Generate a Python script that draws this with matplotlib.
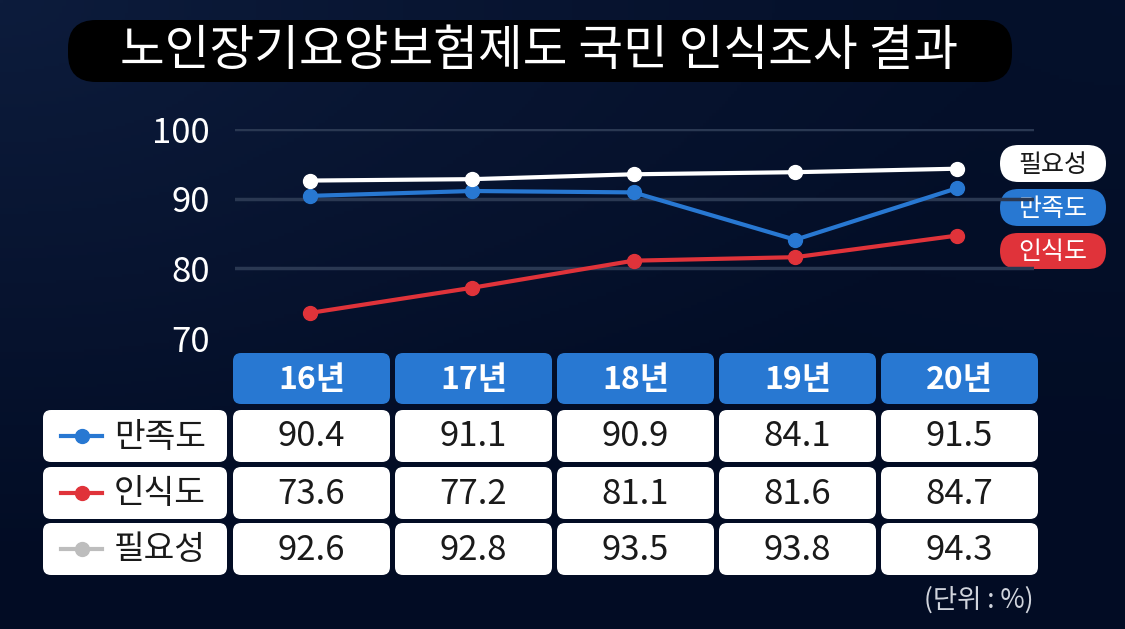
import numpy as np
import matplotlib
matplotlib.use("Agg")
import matplotlib.pyplot as plt
from matplotlib.patches import FancyBboxPatch
from matplotlib.lines import Line2D

plt.rcParams['font.family'] = ['Noto Sans CJK KR', 'DejaVu Sans']

# ---- data ----
title = "노인장기요양보험제도 국민 인식조사 결과"
years = ["16년", "17년", "18년", "19년", "20년"]
series_names = ["만족도", "인식도", "필요성"]
satisfaction = [90.4, 91.1, 90.9, 84.1, 91.5]
awareness = [73.6, 77.2, 81.1, 81.6, 84.7]
necessity = [92.6, 92.8, 93.5, 93.8, 94.3]
yticks = [70, 80, 90, 100]
unit_label = "(단위 : %)"

series_values = [satisfaction, awareness, necessity]
line_colors = ["#2878d2", "#e0333a", "#ffffff"]
legend_marker_colors = ["#2878d2", "#e0333a", "#bdbdbd"]

W, H = 1125, 629
fig = plt.figure(figsize=(W / 100, H / 100), dpi=100)

# ---- background gradient ----
bg = fig.add_axes([0, 0, 1, 1])
bg.set_xlim(0, W)
bg.set_ylim(0, H)
bg.axis("off")
yy, xx = np.mgrid[0:1:200j, 0:1:360j]
c_tl = np.array([0x0d, 0x1c, 0x3c]) / 255
c_mid = np.array([0x02, 0x0c, 0x24]) / 255
c_br = np.array([0x07, 0x14, 0x30]) / 255
d_tl = np.clip(1 - np.hypot(xx, yy) / 0.9, 0, 1)[..., None]
d_br = np.clip(1 - np.hypot(1 - xx, yy) / 0.8, 0, 1)[..., None] * 0.6
img = c_mid * (1 - d_tl - d_br * (1 - d_tl)) + c_tl * d_tl + c_br * d_br * (1 - d_tl)
bg.imshow(np.clip(img, 0, 1), extent=[0, W, 0, H], origin="upper", aspect="auto", zorder=0)


def box(x0, y0, x1, y1, color, r):
    """Pixel box with top-left origin coordinates."""
    p = FancyBboxPatch((x0, H - y1), x1 - x0, y1 - y0,
                       boxstyle=f"round,pad=0,rounding_size={r}",
                       fc=color, ec="none", zorder=2)
    bg.add_patch(p)


def txt(x, y, s, **kw):
    bg.text(x, H - y, s, zorder=3, **kw)


# ---- title ----
box(68, 20, 1012, 82, "#000000", 28)
txt(539, 51, title, color="white", fontsize=35, ha="center", va="center")

# ---- table ----
col_x0 = [233, 395, 557, 719, 881]
col_w = 157
hdr_y0, hdr_y1 = 353, 404
row_y0 = [410, 467, 523]
row_h = 52
for i, yr in enumerate(years):
    box(col_x0[i], hdr_y0, col_x0[i] + col_w, hdr_y1, "#2878d2", 8)
    txt(col_x0[i] + col_w / 2, (hdr_y0 + hdr_y1) / 2 + 1, yr, color="white",
        fontsize=23, fontweight="bold", ha="center", va="center")

for r, name in enumerate(series_names):
    y0 = row_y0[r]
    yc = y0 + row_h / 2
    box(43, y0, 227, y0 + row_h, "white", 8)
    bg.add_line(Line2D([61, 102], [H - yc, H - yc], color=legend_marker_colors[r],
                       lw=3, zorder=3))
    bg.plot([81.5], [H - yc], "o", color=legend_marker_colors[r], ms=10, zorder=4)
    txt(160, yc + 1, name, color="#1a1a1a", fontsize=24, ha="center", va="center")
    for i in range(len(years)):
        box(col_x0[i], y0, col_x0[i] + col_w, y0 + row_h, "white", 8)
        txt(col_x0[i] + col_w / 2, yc + 1, f"{series_values[r][i]:.1f}",
            color="#1a1a1a", fontsize=25, ha="center", va="center")

txt(1034, 600, unit_label, color="#d0d4dc", fontsize=19, ha="right", va="center")

# ---- legend pills ----
pill_info = [("필요성", "white", "#1a1a1a", 145, 182),
             ("만족도", "#2878d2", "white", 189, 226),
             ("인식도", "#e0333a", "white", 233, 269)]
for name, fc, tc, y0, y1 in pill_info:
    box(1000, y0, 1106, y1, fc, (y1 - y0) / 2)
    txt(1053, (y0 + y1) / 2 + 1, name, color=tc, fontsize=18, ha="center", va="center")

# ---- line chart ----
x_left, x_right = 235, 1034
x_first, x_last = 310, 957
step = (x_last - x_first) / (len(years) - 1)
xlim = (-(x_first - x_left) / step, (len(years) - 1) + (x_right - x_last) / step)
y_top_px, y_bot_px = 129, 338
ax = fig.add_axes([x_left / W, (H - y_bot_px) / H, (x_right - x_left) / W,
                   (y_bot_px - y_top_px) / H])
ax.patch.set_alpha(0)
ax.set_xlim(*xlim)
ax.set_ylim(70, 100)
for s in ax.spines.values():
    s.set_visible(False)
ax.set_xticks([])
ax.set_yticks(yticks)
ax.tick_params(axis="y", length=0, pad=18, labelsize=25, labelcolor="white")
for g in [80, 90, 100]:
    ax.axhline(g, color="#2a3852", lw=2.5, zorder=1)

xs = np.arange(len(years))
order = [1, 0, 2]  # awareness, satisfaction, necessity on top
for r in order:
    ax.plot(xs, series_values[r], color=line_colors[r], lw=3, marker="o", ms=10,
            zorder=3 + r, clip_on=False)

fig.savefig("out.png", dpi=100, facecolor=fig.get_facecolor())
